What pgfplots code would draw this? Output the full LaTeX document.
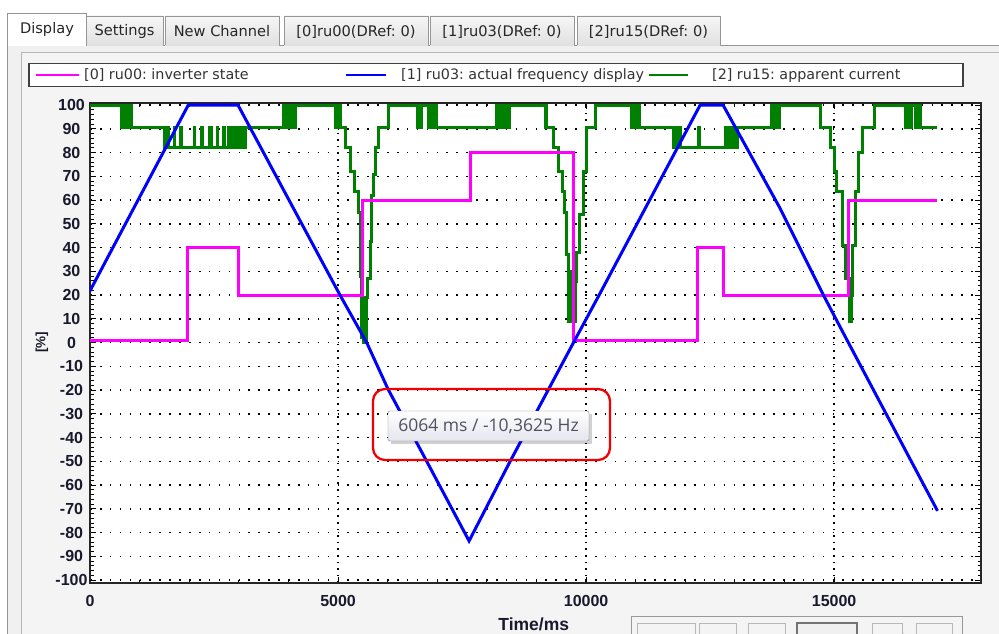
\documentclass[border=0pt]{standalone}
\usepackage{fontspec}
\setmainfont{DejaVu Sans}
\newfontfamily\lib{Liberation Sans}
\newfontfamily\osans{Open Sans}
\usepackage{pgfplots}
\pgfplotsset{compat=1.18}
\frenchspacing

\definecolor{inv}{RGB}{255,0,255}
\definecolor{frq}{RGB}{0,0,255}
\definecolor{cur}{RGB}{0,128,0}
\definecolor{panel}{RGB}{240,240,240}
\definecolor{inner}{RGB}{244,244,244}
\definecolor{frame}{RGB}{150,150,150}
\definecolor{tabtop}{RGB}{246,246,246}
\definecolor{tabbot}{RGB}{224,224,224}
\definecolor{tipcol}{RGB}{80,80,95}
\definecolor{tipbot}{RGB}{228,229,238}
\definecolor{tickcol}{RGB}{25,25,45}

\begin{document}
\begin{tikzpicture}
% window, in pixel coordinates from the top left
\begin{scope}[x=1pt,y=-1pt]
\fill[white] (0,0) rectangle (999,634);
\fill[panel] (7,45) rectangle (999,634);
\draw[frame] (7,634) -- (7,45.5) -- (999,45.5);
\draw[frame!70, fill=inner] (21,52) rectangle (1010,650);

% tabs
\foreach \a/\b/\t/\c in {86/163/Settings/124.5, 165/279/New Channel/222, 284/428/{[0]ru00(DRef: 0)}/356, 430/574/{[1]ru03(DRef: 0)}/502, 577/720/{[2]ru15(DRef: 0)}/648.5}{
  \shadedraw[top color=tabtop, bottom color=tabbot, draw=frame] (\a,45.5) -- (\a,16) -- (\b,16) -- (\b,45.5);
  \node[font=\fontsize{14.6}{16}\selectfont, text=black!85] at (\c,31.5) {\t};
}
\filldraw[fill=white, draw=frame] (7,46) -- (7,13) -- (86,13) -- (86,46);
\node[font=\fontsize{14.6}{16}\selectfont, text=black!85] at (47,29.5) {Display};

% legend box
\draw[black!75, line width=1.3pt, fill=white] (29,63.5) rectangle (963,86.5);
\draw[inv, line width=2.8pt] (36,75) -- (79,75);
\node[anchor=west, inner sep=0pt, font=\fontsize{14.3}{16}\selectfont, text=black!80] at (84,75.5) {[0] ru00: inverter state};
\draw[frq, line width=2.8pt] (346,75) -- (386,75);
\node[anchor=west, inner sep=0pt, font=\fontsize{14.3}{16}\selectfont, text=black!80] at (401,75.5) {[1] ru03: actual frequency display};
\draw[cur, line width=2.8pt] (649,75) -- (688,75);
\node[anchor=west, inner sep=0pt, font=\fontsize{14.3}{16}\selectfont, text=black!80] at (712,75.5) {[2] ru15: apparent current};
\end{scope}

\begin{axis}[
    at={(90pt,-583pt)}, anchor=south west,
    scale only axis, width=891pt, height=480pt,
    xmin=0, xmax=17960,
    ymin=-101.2, ymax=100.9,
    xtick={0,5000,10000,15000},
    xticklabels={0,5000,10000,15000},
    minor x tick num=4,
    ytick={-100,-90,-80,-70,-60,-50,-40,-30,-20,-10,0,10,20,30,40,50,60,70,80,90,100},
    yticklabels={-100,-90,-80,-70,-60,-50,-40,-30,-20,-10,0,10,20,30,40,50,60,70,80,90,100},
    minor y tick num=4,
    tick align=inside,
    major tick length=6pt, minor tick length=3.5pt,
    tick style={black, line width=1pt},
    axis background/.style={fill=white},
    axis line style={draw=black!85, line width=1.6pt},
    xmajorgrids, ymajorgrids,
    major x grid style={black, line width=1.6pt, dash pattern=on 1.6pt off 5pt},
    major y grid style={black, line width=1.6pt, dash pattern=on 1.6pt off 8.3pt},
    tick label style={font=\lib\bfseries\fontsize{16}{18}\selectfont, text=tickcol},
    yticklabel style={anchor=center, xshift=-18.5pt},
    xticklabel style={anchor=center, yshift=-17.7pt},
    xlabel={Time/ms}, ylabel={[\%]},
    every axis x label/.style={at={(rel axis cs:0.498,0)}, yshift=-41.5pt, anchor=center, font=\lib\bfseries\fontsize{17.5}{19}\selectfont, text=tickcol},
    every axis y label/.style={at={(rel axis cs:0,0.502)}, xshift=-48pt, rotate=90, anchor=center, font=\lib\bfseries\fontsize{13.5}{15}\selectfont, text=tickcol},
]
% [2] ru15: apparent current
\addplot[cur, line width=3pt, sharp plot] coordinates {
(0,100)(638,100)
(638,90.5)(665,90.5)(665,100)(690,100)(690,90.5)(715,90.5)(715,100)(740,100)(740,90.5)(765,90.5)(765,100)(790,100)(790,90.5)(815,90.5)(815,100)(835,100)(835,90.5)
(1492,90.5)(1492,82)(1515,82)(1515,90.5)(1540,90.5)(1540,82)(1565,82)(1565,90.5)(1580,90.5)(1580,82)(1700,82)(1700,90.5)(1712,90.5)(1712,82)(1830,82)(1830,90.5)(1842,90.5)(1842,82)(2100,82)(2100,90.5)(2112,90.5)(2112,82)(2250,82)(2250,90.5)(2262,90.5)(2262,82)(2400,82)(2400,90.5)(2420,90.5)(2420,82)(2440,82)(2440,90.5)(2455,90.5)(2455,82)(2560,82)(2560,90.5)(2575,90.5)(2575,82)(2700,82)(2700,90.5)(2715,90.5)(2715,82)(2790,82)(2790,90.5)(2815,90.5)(2815,82)(2840,82)(2840,90.5)(2865,90.5)(2865,82)(2890,82)(2890,90.5)(2915,90.5)(2915,82)(2940,82)(2940,90.5)(2965,90.5)(2965,82)(3040,82)(3040,90.5)(3060,90.5)(3060,82)(3090,82)(3090,90.5)(3110,90.5)(3110,82)(3140,82)(3140,90.5)
(3891,90.5)(3891,100)(3916,100)(3916,90.5)(3941,90.5)(3941,100)(3966,100)(3966,90.5)(3991,90.5)(3991,100)(4016,100)(4016,90.5)(4041,90.5)(4041,100)(4066,100)(4066,90.5)(4091,90.5)(4091,100)(4116,100)(4116,90.5)(4141,90.5)(4141,100)(4166,100)
(4940,100)(4940,90.5)(4965,90.5)(4965,100)(4990,100)(4990,90.5)(5015,90.5)(5015,100)(5040,100)(5040,90.5)(5060,90.5)
(5141,90.5)(5141,82)(5242,82)(5242,72)(5323,72)(5323,63.5)(5403,63.5)(5403,55)(5443,55)(5443,28)(5470,28)(5470,2)(5490,2)(5490,19)(5510,19)(5510,0)(5530,0)(5530,19)(5550,19)(5550,1)(5570,1)(5570,19)(5598,19)(5598,27)(5645,27)(5645,42.5)(5680,42.5)(5680,62)(5705,62)(5705,71)(5745,71)(5745,82)(5806,82)(5806,90.5)(6008,90.5)(6008,100)
(6600,100)(6600,90.5)(6620,90.5)(6620,100)(6640,100)(6640,90.5)(6687,90.5)(6687,100)(6820,100)(6820,90.5)(6888,90.5)(6888,100)(6910,100)(6910,90.5)(6930,90.5)(6930,100)(6950,100)(6950,90.5)(6970,90.5)(6970,100)(6990,100)(6990,90.5)
(8200,90.5)(8200,100)(8225,100)(8225,90.5)(8250,90.5)(8250,100)(8275,100)(8275,90.5)(8300,90.5)(8300,100)(8325,100)(8325,90.5)(8350,90.5)(8350,100)(8375,100)(8375,90.5)(8400,90.5)(8400,100)(8425,100)(8425,90.5)(8450,90.5)(8450,100)
(9173,100)(9173,90.5)(9190,90.5)(9190,100)(9205,100)(9205,90.5)
(9341,90.5)(9341,82)(9435,82)(9435,72)(9516,72)(9516,63.5)(9560,63.5)(9560,55)(9600,55)(9600,37)(9650,37)(9650,9)(9670,9)(9670,30)(9690,30)(9690,9)(9780,9)(9780,25.6)(9812,25.6)(9812,38)(9859,38)(9859,54)(9940,54)(9940,72)(10000,72)(10000,90.5)(10181,90.5)(10181,100)
(10921,100)(10921,90.5)(10946,90.5)(10946,100)(10971,100)(10971,90.5)(10996,90.5)(10996,100)(11021,100)(11021,90.5)(11046,90.5)(11046,100)(11071,100)(11071,90.5)
(11754,90.5)(11754,82)(11779,82)(11779,90.5)(11804,90.5)(11804,82)(11829,82)(11829,90.5)(11854,90.5)(11854,82)(11879,82)(11879,90.5)(11895,90.5)(11895,82)(12258,82)(12258,90.5)(12280,90.5)(12280,82)
(12802,82)(12802,90.5)(12827,90.5)(12827,82)(12852,82)(12852,90.5)(12877,90.5)(12877,82)(12902,82)(12902,90.5)(12927,90.5)(12927,82)(12952,82)(12952,90.5)(12977,90.5)(12977,82)(13002,82)(13002,90.5)(13027,90.5)(13027,82)(13052,82)(13052,90.5)
(13743,90.5)(13743,100)(13768,100)(13768,90.5)(13793,90.5)(13793,100)(13818,100)(13818,90.5)(13843,90.5)(13843,100)(13868,100)(13868,90.5)(13893,90.5)(13893,100)
(14730,100)(14730,90.5)(14919,90.5)(14919,82)(15000,82)(15000,72)(15040,72)(15040,63.5)(15161,63.5)(15161,41)(15222,41)(15222,27)(15300,27)(15300,9)(15315,9)(15315,20)(15330,20)(15330,9)(15345,9)(15345,20)(15373,20)(15373,41)(15423,41)(15423,63.5)(15484,63.5)(15484,80)(15565,80)(15565,90.5)(15806,90.5)(15806,100)
(16431,100)(16431,90.5)(16456,90.5)(16456,100)(16481,100)(16481,90.5)(16506,90.5)(16506,100)(16531,100)(16531,90.5)(16556,90.5)(16556,100)(16640,100)(16640,90.5)(16665,90.5)(16665,100)(16690,100)(16690,90.5)(16715,90.5)(16715,100)(16740,100)(16740,90.5)(17070,90.5)
};
% [0] ru00: inverter state
\addplot[inv, line width=3pt, sharp plot] coordinates {
(0,0.8)(1956,0.8)(1956,40)(2984,40)(2984,20)(5500,20)(5500,60)(7661,60)(7661,80)(9742,80)(9742,0.8)(12242,0.8)(12242,40)(12775,40)(12775,20)(15286,20)(15286,60)(17072,60)
};
% [1] ru03: actual frequency display
\addplot[frq, line width=3pt, sharp plot] coordinates {
(0,21.8)(1980,100)(2984,100)(5040,20)(5578,0)(6008,-19.6)(6788,-50)(7641,-83.5)(8468,-50)(9745,0)(10282,20.8)(12298,100)(12762,100)(13911,56.5)(14784,20)(15188,3.9)(17083,-70.8)
};
\end{axis}

\begin{scope}[x=1pt,y=-1pt]
% tooltip
\fill[black, opacity=0.18] (391,414) rectangle (592,444);
\shadedraw[top color=white, bottom color=tipbot, draw=black!50, rounded corners=1.5pt] (388,411) rectangle (589,441);
\node[font=\osans\fontsize{17.5}{19}\selectfont, text=tipcol] at (488.5,426) {6064 ms / -10,3625 Hz};
\draw[red!95!black, line width=2.3pt, rounded corners=12pt] (373,389) rectangle (610,460);

% button bar
\draw[black!40] (631.5,640) -- (631.5,616.5) -- (962.5,616.5) -- (962.5,640);
\foreach \a/\b in {637/695, 699/736, 748/785, 872/902, 916/952}{
  \draw[black!28, fill=inner] (\a,623) rectangle (\b,640);
}
\draw[black!55, line width=1.5pt, fill=panel] (797,623) rectangle (857,640);

\pgfresetboundingbox
\path[use as bounding box] (0,0) rectangle (999,634);
\end{scope}
\end{tikzpicture}
\end{document}
